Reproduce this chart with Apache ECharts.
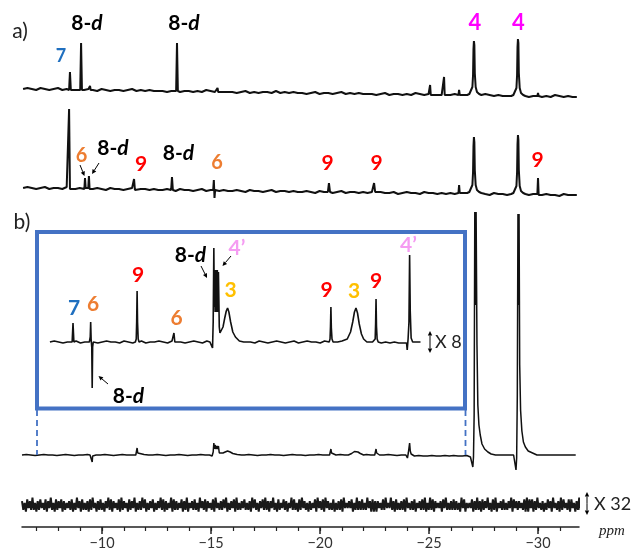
<!DOCTYPE html>
<html><head><meta charset="utf-8">
<script src="https://cdn.jsdelivr.net/npm/echarts@6/dist/echarts.min.js"></script>
<style>html,body{margin:0;padding:0;background:#fff}#c{width:633px;height:556px}</style>
</head><body><div id="c"></div>
<script>
// ---------- axis ticks (ppm) ----------
const ppmMajorTicks = [-30, -25, -20, -15, -10];
const ppmMinorTicks = [-31,-30,-29,-28,-27,-26,-25,-24,-23,-22,-21,-20,-19,-18,-17,-16,-15,-14,-13,-12,-11,-10,-9,-8,-7];

// ---------- trace a) top : baseline samples (start -6.38 ppm, step 0.2) ----------
const a1Baseline = [0,1,0,-1,1,0,-1,0,1,-1,0,0,-1,1,-1,0,
 -1,-2,0,-1,-2,-1,-1,-2,-1,0,-2,-1,-2,-1,-2,-2,
 -2,-3,-2,-1,-3,-2,-2,-3,-2,-3,-1,-2,-3,-2,-3,-3,
 -3,-4,-3,-2,-4,-3,-4,-3,-3,-4,-2,-4,-3,-4,-3,-4,
 -4,-5,-4,-3,-5,-4,-4,-5,-4,-3,-5,-4,-5,-4,-5,-5,
 -5,-6,-5,-4,-6,-5,-5,-6,-5,-6,-4,-5,-6,-5,-6,-6,
 -6,-7,-6,-5,-7,-6,-6,-7,-6,-7,-5,-6,-7,-6,-7,-7,
 -7,-8,-7,-6,-8,-7,-7,-8,-7,-8,-6,-7,-8,-7,-8,-8];
const a1Peaks = [
 [[-8.49,-1],[-8.53,17],[-8.57,-1]],
 [[-9.00,-1],[-9.04,46],[-9.08,-1]],
 [[-9.42,-1],[-9.45,3],[-9.48,-1]],
 [[-13.40,-2],[-13.44,46],[-13.48,-2]],
 [[-15.27,-3],[-15.30,1],[-15.33,-3]],
 [[-25.02,-6],[-25.05,4],[-25.08,-6]],
 [[-25.66,-6],[-25.69,12],[-25.72,-6]],
 [[-26.35,-6],[-26.38,-1],[-26.41,-6]],
 [[-26.75,-6],[-26.85,-5],[-26.93,-3],[-26.99,2],[-27.02,14],[-27.04,40],[-27.06,48],[-27.08,44],[-27.10,16],[-27.14,2],[-27.20,-3],[-27.30,-5],[-27.40,-6]],
 [[-28.77,-7],[-28.87,-6],[-28.95,-4],[-29.01,1],[-29.04,14],[-29.06,42],[-29.08,50],[-29.10,46],[-29.12,16],[-29.16,1],[-29.22,-4],[-29.32,-6],[-29.42,-7]],
 [[-29.97,-7],[-30.00,-4],[-30.03,-7]]
];

// ---------- trace a) bottom ----------
const a2Baseline = [0,1,0,-1,0,1,-1,0,0,-1,1,0,-1,0,1,-1,
 -1,0,-1,-2,0,-1,-1,-2,-1,0,-2,-1,-1,-2,-1,-2,
 -2,-1,-2,-3,-1,-2,-2,-3,-2,-1,-3,-2,-2,-3,-2,-3,
 -3,-2,-3,-4,-2,-3,-3,-4,-3,-2,-4,-3,-3,-4,-3,-4,
 -4,-3,-4,-5,-3,-4,-4,-5,-4,-3,-5,-4,-4,-5,-4,-5,
 -4,-5,-4,-5,-5,-4,-6,-5,-4,-5,-5,-6,-4,-5,-5,-6,
 -5,-6,-5,-6,-6,-5,-7,-6,-5,-6,-6,-7,-5,-6,-6,-7,
 -6,-7,-6,-7,-7,-6,-8,-7,-6,-7,-7,-8,-6,-7,-7,-7];
const a2Peaks = [
 [[-8.45,-1],[-8.49,79],[-8.53,-1]],
 [[-9.19,-1],[-9.22,10],[-9.25,0],[-9.30,-1],[-9.37,0],[-9.40,12],[-9.43,-1]],
 [[-11.43,-1],[-11.47,9],[-11.51,-2]],
 [[-13.17,-2],[-13.21,11],[-13.25,-2]],
 [[-15.10,-2],[-15.13,8],[-15.16,-10],[-15.19,-2]],
 [[-20.36,-4],[-20.41,5],[-20.46,-4]],
 [[-22.43,-4],[-22.48,5],[-22.53,-4]],
 [[-26.35,-5],[-26.38,3],[-26.41,-5]],
 [[-26.75,-5],[-26.85,-4],[-26.93,-2],[-26.99,3],[-27.02,16],[-27.04,42],[-27.06,51],[-27.08,46],[-27.10,18],[-27.14,3],[-27.20,-2],[-27.30,-4],[-27.40,-5]],
 [[-28.77,-6],[-28.87,-5],[-28.95,-3],[-29.01,2],[-29.04,16],[-29.06,44],[-29.08,53],[-29.10,48],[-29.12,18],[-29.16,2],[-29.22,-3],[-29.32,-5],[-29.42,-6]],
 [[-29.97,-6],[-30.00,10],[-30.03,-7]]
];

// ---------- trace b) inset x8 (start -7.61, step 0.2) ----------
const insetBaseline = [0,1,0,-1,0,0,1,-1,0,1,0,-1,0,1,0,0,-1,1,0,-1,
 0,1,-1,0,0,1,0,-1,1,0, 0,-1,0,1,0,-1,1,0,0,-1,
 1,0,-1,0,1,0,0,-1,1,0, -1,0,1,0,-1,0,1,-1,0,1,
 0,0,-1,1,0,-1,0,1,0,-1, 1,0,0,-1,0,1,-1,0,-1,0,
 -1,-1,0,-1,0,0];
const insetPeaks = [
 [[-8.63,0],[-8.67,19],[-8.71,0]],
 [[-9.42,0],[-9.46,5],[-9.48,20],[-9.50,3],[-9.53,-5],[-9.55,-46],[-9.57,-5],[-9.60,0]],
 [[-11.53,0],[-11.57,3],[-11.59,20],[-11.61,51],[-11.63,20],[-11.66,3],[-11.70,0]],
 [[-13.26,0],[-13.30,9],[-13.34,0]],
 [[-14.95,0],[-15.03,-1],[-15.07,-6],[-15.10,20],[-15.13,94],[-15.15,35],[-15.17,72],[-15.19,30],[-15.21,72],[-15.23,30],[-15.25,72],[-15.27,30],[-15.29,72],[-15.31,30],[-15.34,70],[-15.38,15],[-15.41,9],[-15.47,10],[-15.55,15],[-15.63,24],[-15.70,31],[-15.76,34],[-15.82,30],[-15.90,20],[-16.00,10],[-16.12,5],[-16.30,1],[-16.50,0]],
 [[-20.42,0],[-20.46,3],[-20.48,15],[-20.50,35],[-20.52,14],[-20.55,3],[-20.60,0]],
 [[-21.10,0],[-21.25,3],[-21.40,10],[-21.50,20],[-21.58,30],[-21.65,34],[-21.72,29],[-21.80,18],[-21.90,8],[-22.00,3],[-22.15,0]],
 [[-22.49,0],[-22.53,3],[-22.55,18],[-22.57,43],[-22.59,16],[-22.62,3],[-22.67,0]],
 [[-23.90,0],[-23.97,-1],[-24.00,-8],[-24.04,3],[-24.08,20],[-24.11,87],[-24.14,30],[-24.18,4],[-24.25,0]]
];

// ---------- trace b) full spectrum (start -6.33, step 0.2) ----------
const bBaseline = [0,0.5,0,-0.5,0,0.5,0,0,-0.5,0, 0.5,0,-0.5,0,0,0.5,-0.5,0,0,0.5,
 0,-0.5,0,0.5,0,0,-0.5,0,0.5,0, 0,0.5,0,-0.5,0,0,0.5,0,-0.5,0,
 0,0.5,0,0,-0.5,0,0.5,0,0,-0.5, 0,0,0.5,0,-0.5,0,0,0.5,0,0,
 -0.5,0,0.5,0,0,-0.5,0,0,0.5,0, 0,-0.5,0,0.5,0,0,-0.5,0,0,0.5,
 0,-0.5,0,0,0.5,0,-0.5,0,0,-1, -1,-0.5,-1,-1,-0.5,-1,-1,-0.5,-1,-0.5,
 -1,-1,-0.5,0,0,0,0.5,0,0,0, 0,0,0,0,0,0,0,0,0,0, 0,0,0,0,0,0,0,0];
const bPeaks = [
 [[-9.45,0],[-9.48,2],[-9.51,0],[-9.53,-1],[-9.55,-7],[-9.57,-1],[-9.60,0]],
 [[-11.55,0],[-11.58,2],[-11.61,7],[-11.64,2],[-11.68,0]],
 [[-14.98,0],[-15.05,-1],[-15.10,3],[-15.13,12],[-15.16,6],[-15.19,10],[-15.23,6],[-15.27,9],[-15.31,6],[-15.34,9],[-15.38,2],[-15.45,1],[-15.55,2],[-15.65,3],[-15.76,4],[-15.88,3],[-16.00,1.5],[-16.20,0.5],[-16.40,0]],
 [[-20.44,0],[-20.48,2],[-20.50,6],[-20.53,2],[-20.57,0]],
 [[-21.30,0],[-21.45,1.5],[-21.58,3.5],[-21.65,4],[-21.74,3],[-21.85,1.5],[-22.00,0]],
 [[-22.51,0],[-22.55,2],[-22.57,6],[-22.60,2],[-22.64,0]],
 [[-23.94,0],[-23.98,-1],[-24.01,-3],[-24.05,2],[-24.08,4],[-24.11,12],[-24.14,4],[-24.18,1],[-24.22,0]],
 [[-26.80,-1],[-26.90,-2],[-26.98,-3],[-27.01,-12],[-27.04,-2],[-27.07,40],[-27.10,243],[-27.13,150],[-27.16,243],[-27.20,110],[-27.24,50],[-27.29,30],[-27.35,20],[-27.43,11],[-27.55,6],[-27.70,3],[-27.85,1],[-28.05,0]],
 [[-28.88,0],[-28.94,-2],[-28.99,-15],[-29.02,-3],[-29.05,60],[-29.08,241],[-29.11,150],[-29.13,241],[-29.16,90],[-29.20,45],[-29.26,24],[-29.33,13],[-29.42,8],[-29.55,4],[-29.75,2],[-29.95,0]]
];

// ---------- trace b) x32 noise (start -6.33, step 0.06), digits 0..9 ----------
const noiseDigits =
 "7261837292" + "6172836281" + "7392618273" + "8172637281" + "6293718262" +
 "7182936172" + "8261739281" + "7362819273" + "6182739162" + "7293816273" +
 "8162739281" + "7263918272" + "6381729163" + "7282619372" + "8173628193" +
 "6272839162" + "7381926273" + "8262719382" + "6173829271" + "7392618263" +
 "8271639282" + "6182937261" + "7263819372" + "8193726281" + "6272819363" +
 "7381629272" + "8262937181" + "7173628293" + "6392718262" + "7281936272" +
 "8163728291" + "6292817363" + "7183926272" + "8272619381" + "6363817292" +
 "7182739261" + "8291637282" + "6273918372" + "7362819183" + "8172936271" +
 "6283719362" + "7192836281" + "8361729273";

// ---------- build traces ----------
function buildTrace(start, step, baseVals, segments) {
  const ranges = segments.map(s => [Math.min(...s.map(p => p[0])), Math.max(...s.map(p => p[0]))]);
  const pts = [];
  baseVals.forEach((v, i) => {
    const x = +(start - i * step).toFixed(3);
    if (!ranges.some(r => x >= r[0] - 0.03 && x <= r[1] + 0.03)) pts.push([x, v]);
  });
  segments.forEach(s => s.forEach(p => pts.push(p)));
  pts.sort((a, b) => b[0] - a[0]);
  return pts;
}
const traceA1 = buildTrace(-6.38, 0.2, a1Baseline, a1Peaks);
const traceA2 = buildTrace(-6.38, 0.2, a2Baseline, a2Peaks);
const traceInset = buildTrace(-7.61, 0.2, insetBaseline, insetPeaks);
const traceB = buildTrace(-6.33, 0.2, bBaseline, bPeaks);
const traceNoise = noiseDigits.split('').map((c, i) => [+(-6.33 - i * 0.06).toFixed(3), (+c - 4.5) * 1.75]);

// ---------- layout ----------
const X_MIN = -31.88, X_MAX = -6.33;
const grids = [
  {top: 20, height: 90, ymin: -21, ymax: 69},     // a) top
  {top: 100, height: 110, ymin: -22, ymax: 88},   // a) bottom
  {top: 230, height: 170, ymin: -58, ymax: 112},  // inset
  {top: 200, height: 280, ymin: -25, ymax: 255},  // b) full
  {top: 485, height: 42, ymin: -21.5, ymax: 20.5} // x32
];
const seriesData = [traceA1, traceA2, traceInset, traceB, traceNoise];
const lineWidths = [2, 2, 1.6, 1.5, 2];

const FONT = 'Lato, "Open Sans", sans-serif';
const xAxes = grids.map((g, i) => ({
  type: 'value', gridIndex: i, min: X_MIN, max: X_MAX, inverse: true, show: i === 4,
  position: 'bottom',
  axisLine: {show: true, onZero: false, lineStyle: {color: '#222', width: 1.5}},
  axisTick: {show: true, customValues: ppmMajorTicks, length: 7, lineStyle: {color: '#222', width: 1.5}},
  axisLabel: {show: true, customValues: ppmMajorTicks, margin: 9, fontSize: 14.5, color: '#333', fontFamily: FONT,
    formatter: v => '\u2212' + Math.abs(v)},
  splitLine: {show: false}
}));
xAxes.push({
  type: 'value', gridIndex: 4, min: X_MIN, max: X_MAX, inverse: true, position: 'bottom',
  axisLine: {show: false, onZero: false},
  axisTick: {show: true, customValues: ppmMinorTicks, length: 4, lineStyle: {color: '#222', width: 1.2}},
  axisLabel: {show: false}, splitLine: {show: false}
});

// ---------- annotations ----------
const C = {blue: '#1F6FBF', orange: '#ED7D31', red: '#FF0000', mag: '#FF00FF', pink: '#F59CF2', yel: '#FFC000', box: '#4472C4'};
function txt(x, y, text, color, size, weight) {
  return {type: 'text', x: x, y: y, silent: true, z: 100,
    style: {text: text, fill: color, fontSize: size, fontWeight: weight || 'bold', fontFamily: FONT, align: 'center', verticalAlign: 'middle'}};
}
function txt8d(x, y, size) {
  return {type: 'text', x: x, y: y, silent: true, z: 100,
    style: {text: '{n|8-}{i|d}', align: 'center', verticalAlign: 'middle', fill: '#000',
      rich: {n: {fontSize: size, fontWeight: 'bold', fontFamily: FONT, fill: '#000'},
             i: {fontSize: size, fontWeight: 'bold', fontStyle: 'italic', fontFamily: FONT, fill: '#000'}}}};
}
function arrow(x1, y1, x2, y2) {
  const a = Math.atan2(y2 - y1, x2 - x1), L = 4.5, W = 2.2;
  const bx = x2 - L * Math.cos(a), by = y2 - L * Math.sin(a);
  const px = -Math.sin(a) * W, py = Math.cos(a) * W;
  return [
    {type: 'line', silent: true, z: 100, shape: {x1: x1, y1: y1, x2: bx, y2: by}, style: {stroke: '#000', lineWidth: 1}},
    {type: 'polygon', silent: true, z: 100, shape: {points: [[x2, y2], [bx + px, by + py], [bx - px, by - py]]}, style: {fill: '#000'}}
  ];
}
function dblArrow(x, y1, y2) {
  return arrow(x, (y1 + y2) / 2, x, y1).concat(arrow(x, (y1 + y2) / 2, x, y2));
}

const graphics = [
  // blue inset box + dashed guides
  {type: 'rect', silent: true, z: 50, shape: {x: 37, y: 232, width: 428, height: 176.5}, style: {fill: 'none', stroke: C.box, lineWidth: 4}},
  {type: 'line', silent: true, z: 50, shape: {x1: 37, y1: 410, x2: 37, y2: 455}, style: {stroke: C.box, lineWidth: 1.8, lineDash: [6, 4]}},
  {type: 'line', silent: true, z: 50, shape: {x1: 465.5, y1: 410, x2: 465.5, y2: 455}, style: {stroke: C.box, lineWidth: 1.8, lineDash: [6, 4]}},
  // panel letters
  txt(20, 31, 'a)', '#222', 21, 'normal'),
  txt(22, 222, 'b)', '#222', 21, 'normal'),
  // a) top
  txt(61, 56, '7', C.blue, 18),
  txt8d(87, 23, 21),
  txt8d(184, 23, 21),
  txt(475, 23, '4', C.mag, 22),
  txt(518.5, 23, '4', C.mag, 22),
  // a) bottom
  txt(81.5, 156, '6', C.orange, 20),
  txt8d(113, 148, 21),
  txt(141, 164.5, '9', C.red, 21),
  txt8d(178.5, 153, 21),
  txt(217, 162.5, '6', C.orange, 20),
  txt(327.5, 163.5, '9', C.red, 21),
  txt(376.5, 163.5, '9', C.red, 21),
  txt(537.5, 160, '9', C.red, 21),
  // inset
  txt(74, 308, '7', C.blue, 21),
  txt(93, 304, '6', C.orange, 21),
  txt(138, 275, '9', C.red, 21),
  txt(176.5, 318, '6', C.orange, 21),
  txt8d(190.5, 255, 21),
  txt(237, 248, '4\u2019', C.pink, 21),
  txt(230.5, 290, '3', C.yel, 21),
  txt(326.5, 290, '9', C.red, 21),
  txt(354, 291, '3', C.yel, 21),
  txt(376, 281, '9', C.red, 21),
  txt(408.5, 245, '4\u2019', C.pink, 21),
  txt8d(128.5, 396, 21),
  {type: 'text', x: 435, y: 342, silent: true, z: 100, style: {text: 'X 8', fill: '#222', fontSize: 18, fontFamily: FONT, align: 'left', verticalAlign: 'middle'}},
  {type: 'text', x: 594, y: 504, silent: true, z: 100, style: {text: 'X 32', fill: '#222', fontSize: 18, fontFamily: FONT, align: 'left', verticalAlign: 'middle'}},
  {type: 'text', x: 599, y: 531, silent: true, z: 100, style: {text: 'ppm', fill: '#222', fontSize: 15, fontStyle: 'italic', fontFamily: '"Liberation Serif", "DejaVu Serif", serif', align: 'left', verticalAlign: 'middle'}}
].concat(
  arrow(80, 165, 84.5, 176),
  arrow(99, 163, 92, 174),
  arrow(201, 266, 207, 278),
  arrow(231, 256, 222.5, 266),
  arrow(108, 384, 98.5, 376),
  dblArrow(430, 331, 353),
  dblArrow(587, 492, 515)
);

const chart = echarts.init(document.getElementById('c'), null, {renderer: 'canvas'});
chart.setOption({
  animation: false,
  backgroundColor: '#fff',
  grid: grids.map(g => ({left: 22, right: 54, top: g.top, height: g.height, containLabel: false})),
  xAxis: xAxes,
  yAxis: grids.map((g, i) => ({type: 'value', gridIndex: i, min: g.ymin, max: g.ymax, show: false})),
  series: seriesData.map((d, i) => ({
    type: 'line', xAxisIndex: i, yAxisIndex: i, data: d, showSymbol: false, symbol: 'none',
    silent: true, clip: false, lineStyle: {color: i === 4 ? '#1a1a1a' : '#111', width: lineWidths[i]}, z: 10
  })),
  graphic: graphics
});
</script></body></html>
